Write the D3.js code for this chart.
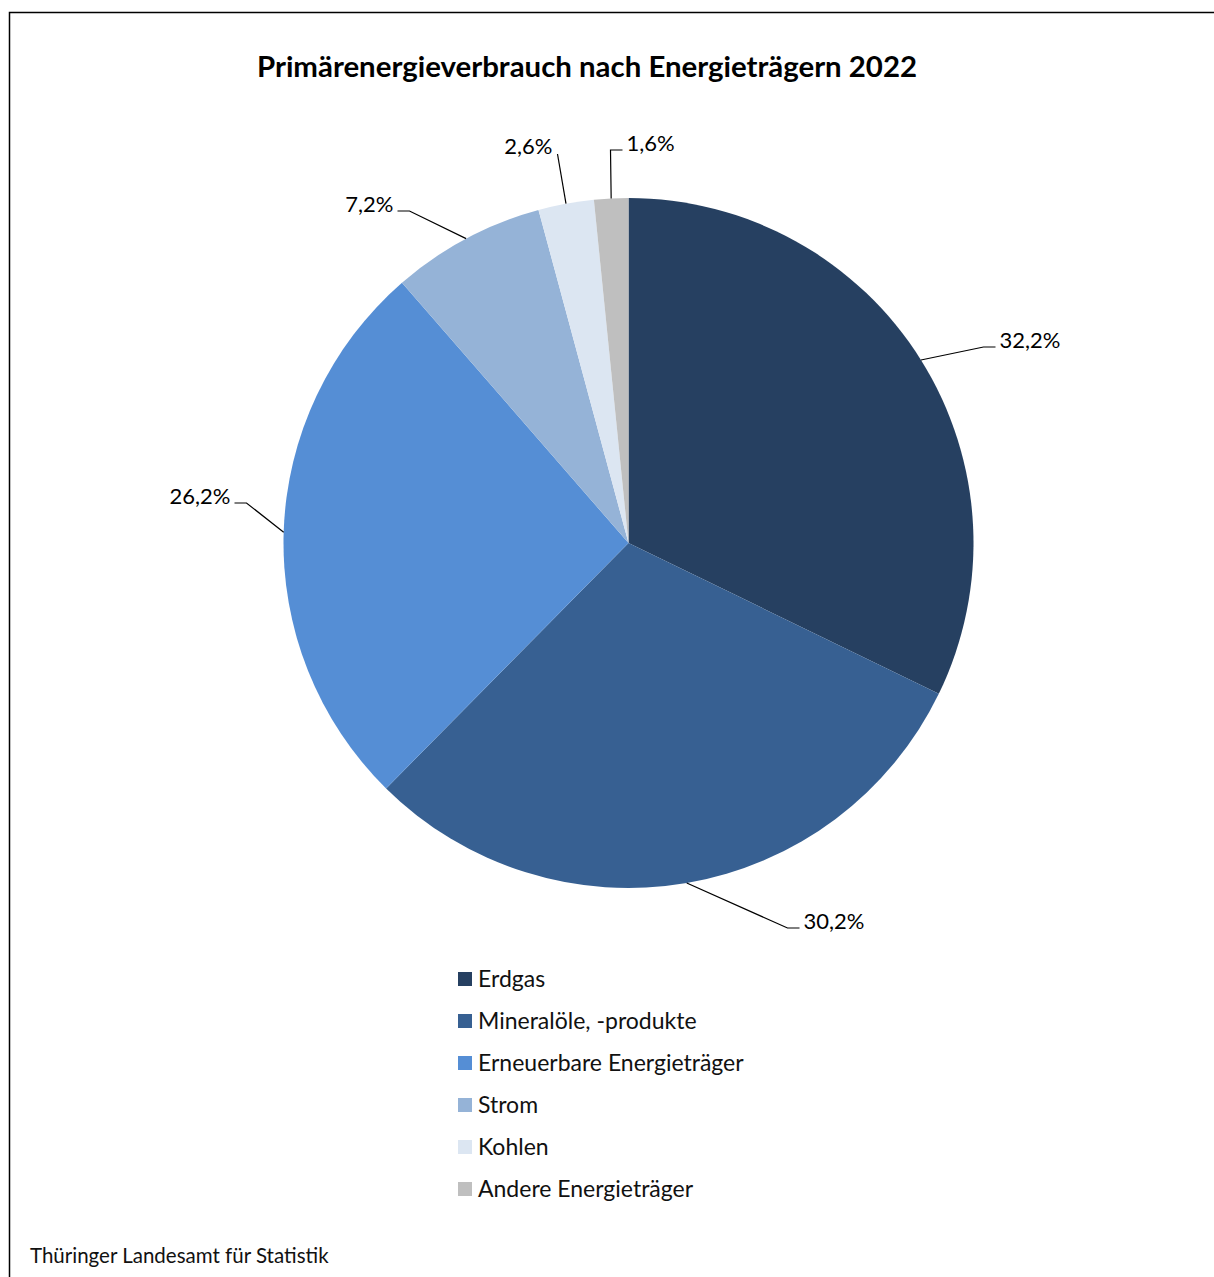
<!DOCTYPE html>
<html>
<head>
<meta charset="utf-8">
<script src="https://cdn.jsdelivr.net/npm/d3@7"></script>
<style>
  body { margin: 0; background: #fff; }
</style>
</head>
<body>
<div id="chart"></div>
<script>
const categories = ['Erdgas', 'Mineralöle, -produkte', 'Erneuerbare Energieträger', 'Strom', 'Kohlen', 'Andere Energieträger'];
const shares = [32.2, 30.2, 26.2, 7.2, 2.6, 1.6];
const colors = ['#264061', '#376092', '#558ED5', '#95B3D7', '#DCE6F2', '#BFBFBF'];
const title = 'Primärenergieverbrauch nach Energieträgern 2022';
const source = 'Thüringer Landesamt für Statistik';

// leader line elbows relative to pie centre, and which side the text sits on
const labelLayout = [
  { dx: 355, dy: -196, side: 1 },
  { dx: 159, dy: 385, side: 1 },
  { dx: -382, dy: -40, side: -1 },
  { dx: -219, dy: -332, side: -1 },
  { dx: -71, dy: -389, side: 0 },
  { dx: -18, dy: -393, side: 1 }
];

const width = 1214, height = 1277;
const cx = 628.5, cy = 543, radius = 345;
const font = 'Lato, "Source Sans Pro", sans-serif';

const svg = d3.select('#chart').append('svg')
  .attr('width', width)
  .attr('height', height)
  .attr('font-family', font);

svg.append('rect')
  .attr('x', 9.5).attr('y', 12.5)
  .attr('width', width + 10).attr('height', height + 10)
  .attr('fill', 'none')
  .attr('stroke', '#000')
  .attr('stroke-width', 1.5);

svg.append('text')
  .attr('x', 587).attr('y', 77)
  .attr('text-anchor', 'middle')
  .attr('font-weight', 'bold')
  .attr('font-size', 29.4)
  .text(title);

const pie = d3.pie().sort(null).value(d => d);
const arcs = pie(shares);
const arc = d3.arc().innerRadius(0).outerRadius(radius);

const g = svg.append('g').attr('transform', `translate(${cx},${cy})`);

g.selectAll('path.slice')
  .data(arcs)
  .join('path')
  .attr('class', 'slice')
  .attr('d', arc)
  .attr('fill', (d, i) => colors[i]);

const fmt = v => d3.format('.1f')(v).replace('.', ',') + '%';

arcs.forEach((d, i) => {
  const mid = (d.startAngle + d.endAngle) / 2;
  const px = radius * Math.sin(mid), py = -radius * Math.cos(mid);
  const { dx, dy, side } = labelLayout[i];
  const pts = [[px, py], [dx, dy]];
  if (side !== 0) pts.push([dx + side * 12, dy]);
  g.append('path')
    .attr('d', d3.line()(pts))
    .attr('fill', 'none')
    .attr('stroke', '#000')
    .attr('stroke-width', 1.2);
  const end = pts[pts.length - 1];
  g.append('text')
    .attr('x', side === 0 ? end[0] - 5 : end[0] + side * 4)
    .attr('y', side === 0 ? end[1] : end[1] + 1)
    .attr('text-anchor', side > 0 ? 'start' : 'end')
    .attr('font-size', 22)
    .attr('fill', '#000')
    .text(fmt(shares[i]));
});

const legend = svg.append('g').attr('transform', 'translate(458,979)');
categories.forEach((c, i) => {
  const row = legend.append('g').attr('transform', `translate(0,${i * 42})`);
  row.append('rect')
    .attr('x', 0).attr('y', -7)
    .attr('width', 14).attr('height', 14)
    .attr('fill', colors[i]);
  row.append('text')
    .attr('x', 20).attr('y', 0)
    .attr('dy', '0.35em')
    .attr('font-size', 23)
    .attr('fill', '#111')
    .text(c);
});

svg.append('text')
  .attr('x', 30).attr('y', 1263)
  .attr('font-size', 20.5)
  .attr('fill', '#111')
  .text(source);
</script>
</body>
</html>
